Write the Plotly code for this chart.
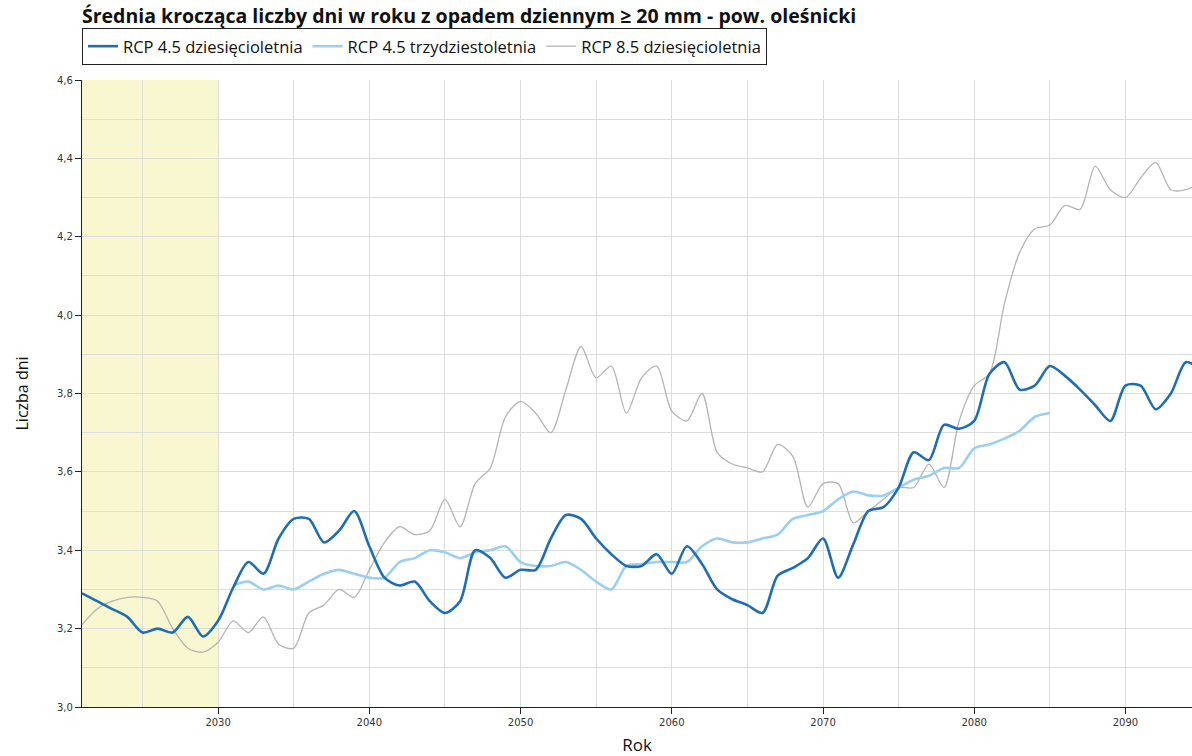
import plotly.graph_objects as go

years = list(range(2021, 2096))

rcp45_10 = [3.29, 3.27, 3.25, 3.23, 3.19, 3.20, 3.19, 3.23, 3.18, 3.22,
            3.305, 3.37, 3.34, 3.43, 3.48, 3.48, 3.42, 3.45, 3.50, 3.41,
            3.33, 3.31, 3.32, 3.27, 3.24, 3.27, 3.40, 3.38, 3.33, 3.35,
            3.35, 3.43, 3.49, 3.48, 3.43, 3.39, 3.36, 3.36, 3.39, 3.34,
            3.41, 3.365, 3.30, 3.275, 3.26, 3.24, 3.335, 3.355, 3.38, 3.43,
            3.33, 3.415, 3.50, 3.51, 3.56, 3.65, 3.63, 3.72, 3.71, 3.73,
            3.85, 3.88, 3.81, 3.82, 3.87, 3.845, 3.81, 3.77, 3.73, 3.82,
            3.82, 3.76, 3.80, 3.88, 3.86]

years_30 = list(range(2031, 2086))
rcp45_30 = [3.31, 3.32, 3.30, 3.31, 3.30, 3.32, 3.34, 3.35, 3.34, 3.33,
            3.33, 3.37, 3.38, 3.40, 3.395, 3.38, 3.395, 3.40, 3.41, 3.37,
            3.36, 3.36, 3.37, 3.35, 3.32, 3.30, 3.36, 3.365, 3.37, 3.37,
            3.37, 3.41, 3.43, 3.42, 3.42, 3.43, 3.44, 3.48, 3.49, 3.50,
            3.53, 3.55, 3.54, 3.54, 3.56, 3.58, 3.59, 3.61, 3.61, 3.66,
            3.67, 3.685, 3.705, 3.74, 3.75]

rcp85_10 = [3.21, 3.25, 3.27, 3.28, 3.28, 3.27, 3.20, 3.15, 3.14, 3.165,
            3.22, 3.19, 3.23, 3.16, 3.15, 3.24, 3.26, 3.30, 3.28, 3.35,
            3.42, 3.46, 3.44, 3.45, 3.53, 3.46, 3.57, 3.61, 3.74, 3.78,
            3.75, 3.70, 3.81, 3.92, 3.84, 3.87, 3.75, 3.84, 3.87, 3.755,
            3.73, 3.80, 3.65, 3.62, 3.61, 3.60, 3.67, 3.64, 3.51, 3.57,
            3.57, 3.47, 3.50, 3.53, 3.56, 3.56, 3.62, 3.56, 3.73, 3.82,
            3.85, 4.03, 4.16, 4.22, 4.23, 4.28, 4.27, 4.38, 4.32, 4.30,
            4.35, 4.39, 4.32, 4.32, 4.34]

y_ticks = [3.0, 3.2, 3.4, 3.6, 3.8, 4.0, 4.2, 4.4, 4.6]
x_ticks = [2030, 2040, 2050, 2060, 2070, 2080, 2090]

fig = go.Figure()
fig.add_trace(go.Scatter(x=years, y=rcp85_10, mode="lines", name="RCP 8.5 dziesięcioletnia",
                         line=dict(color="#b4b4b4", width=1.3, shape="spline", smoothing=0.8)))
fig.add_trace(go.Scatter(x=years_30, y=rcp45_30, mode="lines", name="RCP 4.5 trzydziestoletnia",
                         line=dict(color="#9acfee", width=2.6, shape="spline", smoothing=0.8)))
fig.add_trace(go.Scatter(x=years, y=rcp45_10, mode="lines", name="RCP 4.5 dziesięcioletnia",
                         line=dict(color="#1f6db5", width=2.6, shape="spline", smoothing=0.8)))

fig.add_shape(type="rect", xref="x", yref="paper", x0=2021, x1=2030, y0=0, y1=1,
              fillcolor="#f8f7cf", line=dict(width=0), layer="below")

fig.update_layout(
    width=1192, height=756,
    margin=dict(l=82, r=0, t=80, b=49),
    paper_bgcolor="white", plot_bgcolor="white",
    separators=", ",
    title=dict(text="<b>Średnia krocząca liczby dni w roku z opadem dziennym ≥ 20 mm - pow. oleśnicki</b>",
               x=82/1192, xref="container", xanchor="left", y=0.978, yref="container", yanchor="middle",
               font=dict(family="Open Sans", size=19.5, color="#111")),
    legend=dict(orientation="h", x=0, xanchor="left", y=1.024, yanchor="bottom",
                traceorder="reversed",
                bordercolor="#222", borderwidth=1, bgcolor="white",
                font=dict(family="Open Sans", size=16.5, color="#111"),
                itemwidth=30, tracegroupgap=0),
    showlegend=True,
    xaxis=dict(range=[2021, 2094.4], tickvals=x_ticks, tickformat="d",
               showgrid=True, gridcolor="#dddddd", gridwidth=1,
               minor=dict(dtick=5, tick0=2020, showgrid=True, gridcolor="#dddddd", gridwidth=1),
               showline=True, linecolor="#222", linewidth=1.2,
               ticks="outside", ticklen=6, tickcolor="#222",
               tickfont=dict(family="DejaVu Sans", size=10, color="#333"),
               title=dict(text="Rok", font=dict(family="Open Sans", size=17, color="#111"), standoff=12),
               zeroline=False),
    yaxis=dict(range=[3.0, 4.6], tickvals=y_ticks, tickformat=".1f",
               showgrid=True, gridcolor="#dddddd", gridwidth=1,
               minor=dict(dtick=0.1, tick0=3.0, showgrid=True, gridcolor="#dddddd", gridwidth=1),
               showline=True, linecolor="#222", linewidth=1.2,
               ticks="outside", ticklen=6, tickcolor="#222",
               tickfont=dict(family="DejaVu Sans", size=10, color="#333"),
               title=dict(text="Liczba dni", font=dict(family="Open Sans", size=16, color="#111"), standoff=24),
               zeroline=False),
)

fig.write_html("out.html", config={"displayModeBar": False},
               post_script="document.body.style.margin='0px';document.body.style.overflow='hidden';")
